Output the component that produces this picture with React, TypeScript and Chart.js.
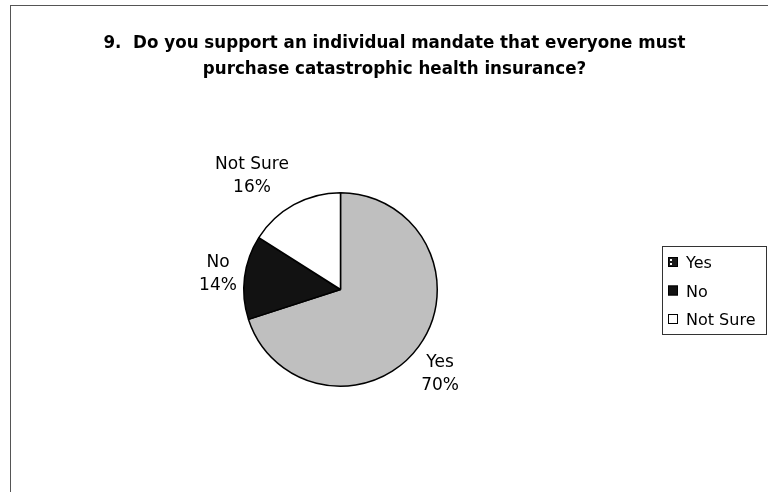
import React, { useEffect, useRef } from "react";
import { Chart, registerables } from "chart.js";

Chart.register(...registerables);

const titleLines = [
  "9.  Do you support an individual mandate that everyone must",
  "purchase catastrophic health insurance?",
];
const categories = ["Yes", "No", "Not Sure"];
const percentages = [70, 14, 16];
const sliceColors = ["#bfbfbf", "#121212", "#ffffff"];

// label placement relative to each slice (outside-end, Excel "best fit" look)
const labelRadius = [133.5, 123, 140.4];
const labelAngleShiftDeg = [5.8, -2.1, -10.3];

const FONT = '"DejaVu Sans", Verdana, sans-serif';

const decorPlugin = {
  id: "decor",
  beforeDraw(chart: any) {
    const ctx = chart.ctx as CanvasRenderingContext2D;
    ctx.save();
    ctx.fillStyle = "#ffffff";
    ctx.fillRect(0, 0, chart.width, chart.height);
    // frame (top and left edges visible)
    ctx.strokeStyle = "#555555";
    ctx.lineWidth = 1;
    ctx.beginPath();
    ctx.moveTo(10, 5.5);
    ctx.lineTo(chart.width, 5.5);
    ctx.moveTo(10.5, 5);
    ctx.lineTo(10.5, chart.height);
    ctx.stroke();
    ctx.restore();
  },
  afterDraw(chart: any) {
    const ctx = chart.ctx as CanvasRenderingContext2D;
    ctx.save();
    // title
    ctx.fillStyle = "#000";
    ctx.font = `bold 18px ${FONT}`;
    ctx.textAlign = "center";
    ctx.textBaseline = "alphabetic";
    const w1 = ctx.measureText(titleLines[0]).width;
    const sx = 582 / w1;
    const baselines = [48, 74];
    titleLines.forEach((line, i) => {
      ctx.save();
      ctx.translate(394.5, baselines[i]);
      ctx.scale(sx, 1);
      ctx.fillText(line, 0, 0);
      ctx.restore();
    });

    // data labels
    const meta = chart.getDatasetMeta(0);
    const data = chart.data.datasets[0].data as number[];
    const total = data.reduce((a, b) => a + b, 0);
    ctx.font = `17px ${FONT}`;
    ctx.textAlign = "center";
    meta.data.forEach((arc: any, i: number) => {
      const p = arc.getProps(["x", "y", "startAngle", "endAngle"], true);
      const mid = (p.startAngle + p.endAngle) / 2 + (labelAngleShiftDeg[i] * Math.PI) / 180;
      const cx = p.x + labelRadius[i] * Math.cos(mid);
      const cy = p.y + labelRadius[i] * Math.sin(mid);
      const pct = Math.round((data[i] / total) * 100) + "%";
      ctx.fillText(String(chart.data.labels[i]), cx, cy - 11.5);
      ctx.fillText(pct, cx, cy + 11.5);
    });

    // legend
    const lx = 662.5,
      ly = 246.5,
      lw = 104,
      lh = 88;
    ctx.strokeStyle = "#333";
    ctx.lineWidth = 1;
    ctx.strokeRect(lx, ly, lw, lh);
    ctx.textAlign = "left";
    ctx.font = `16px ${FONT}`;
    const colors = chart.data.datasets[0].backgroundColor as string[];
    (chart.data.labels as string[]).forEach((lab, i) => {
      const base = 268 + i * 28.5;
      const sxw = 668,
        sy = base - 11;
      ctx.fillStyle = i === 0 ? "#1c1c1c" : colors[i];
      ctx.fillRect(sxw, sy, 10, 10);
      if (i === 0) {
        ctx.fillStyle = "#ffffff";
        ctx.fillRect(sxw + 2, sy + 2, 2, 2);
        ctx.fillRect(sxw + 2, sy + 6, 2, 2);
      }
      ctx.strokeStyle = "#000";
      ctx.strokeRect(sxw + 0.5, sy + 0.5, 9, 9);
      ctx.fillStyle = "#000";
      ctx.fillText(lab, 686, base);
    });
    ctx.restore();
  },
};

export default function App() {
  const ref = useRef<HTMLCanvasElement | null>(null);
  useEffect(() => {
    if (!ref.current) return;
    const chart = new Chart(ref.current, {
      type: "pie",
      data: {
        labels: categories,
        datasets: [
          {
            data: percentages,
            backgroundColor: sliceColors,
            borderColor: "#000000",
            borderWidth: 1.5,
          },
        ],
      },
      options: {
        responsive: false,
        animation: false,
        layout: { padding: { left: 243, right: 330, top: 192, bottom: 105 } },
        plugins: {
          legend: { display: false },
          title: { display: false },
          tooltip: { enabled: false },
        },
      },
      plugins: [decorPlugin],
    });
    return () => chart.destroy();
  }, []);
  return (
    <div style={{ position: "fixed", left: 0, top: 0, width: 768, height: 492, background: "#fff" }}>
      <canvas ref={ref} width={768} height={492} style={{ display: "block" }} />
    </div>
  );
}
